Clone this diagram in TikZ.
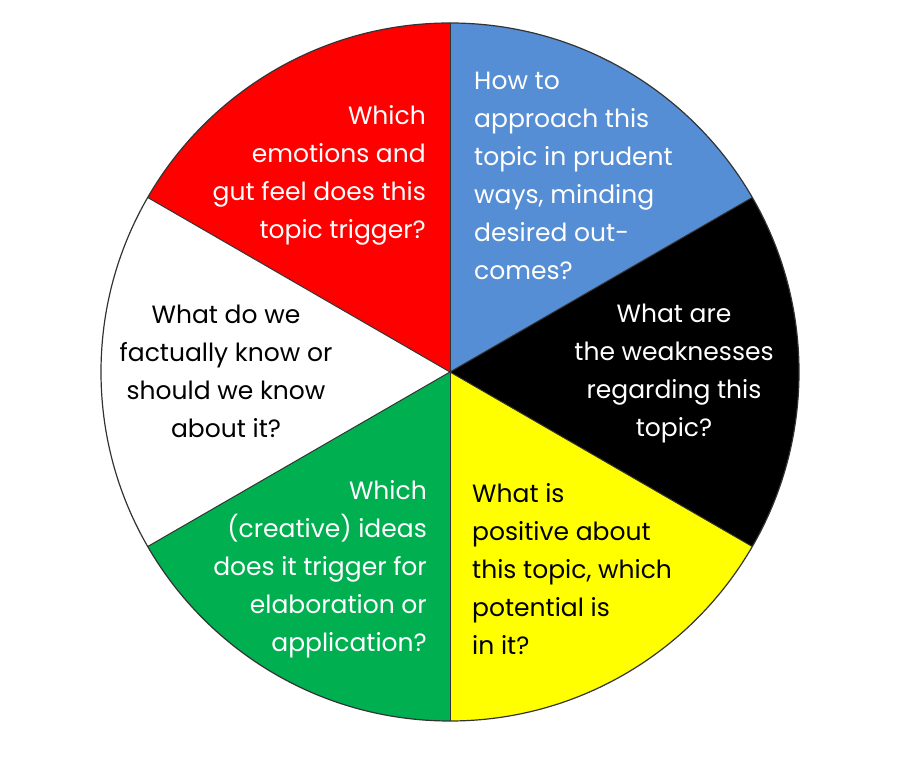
\documentclass[tikz,border=0pt]{standalone}
\usepackage{fontspec}
\setmainfont{Poppins}
\definecolor{hatRed}{RGB}{255,0,0}
\definecolor{hatBlue}{RGB}{85,142,213}
\definecolor{hatGreen}{RGB}{0,176,80}
\definecolor{hatYellow}{RGB}{255,255,0}
\tikzset{
  hat/.style={inner sep=0pt, font=\fontsize{25}{38}\selectfont}
}
\begin{document}
\begin{tikzpicture}[x=1pt, y=1pt]
  \useasboundingbox (0,0) rectangle (900,760);
  \def\rad{349}
  \coordinate (O) at (450,388);

  % the six hats
  \foreach \a/\col in {30/hatBlue, 90/hatRed, 150/white, 210/hatGreen, 270/hatYellow, 330/black}
    \fill[\col] (O) -- ++(\a:\rad) arc[start angle=\a, delta angle=60, radius=\rad] -- cycle;
  \foreach \a in {30,90,...,330}
    \draw[line width=1pt, black!80] (O) -- ++(\a:\rad);
  \draw[line width=1.2pt, black!80] (O) circle (\rad);

  \node[hat, text=white, anchor=east, align=right] (red) at (426,585)
    {Which\\emotions and\\gut feel does this\\topic trigger?};
  \node[hat, text=white, anchor=west, align=left] (blue) at (474,584)
    {How to\\approach this\\topic in prudent\\ways, minding\\desired out-\\comes?};
  \node[hat, text=white, align=center] (black) at (674,386)
    {What are\\the weaknesses\\regarding this\\topic?};
  \node[hat, text=black, align=center] (white) at (226,389)
    {What do we\\factually know or\\should we know\\about it?};
  \node[hat, text=white, anchor=east, align=right] (green) at (427,191)
    {Which\\(creative) ideas\\does it trigger for\\elaboration or\\application?};
  \node[hat, text=black, anchor=west, align=left] (yellow) at (472,191)
    {What is\\positive about\\this topic, which\\potential is\\in it?};
\end{tikzpicture}
\end{document}
